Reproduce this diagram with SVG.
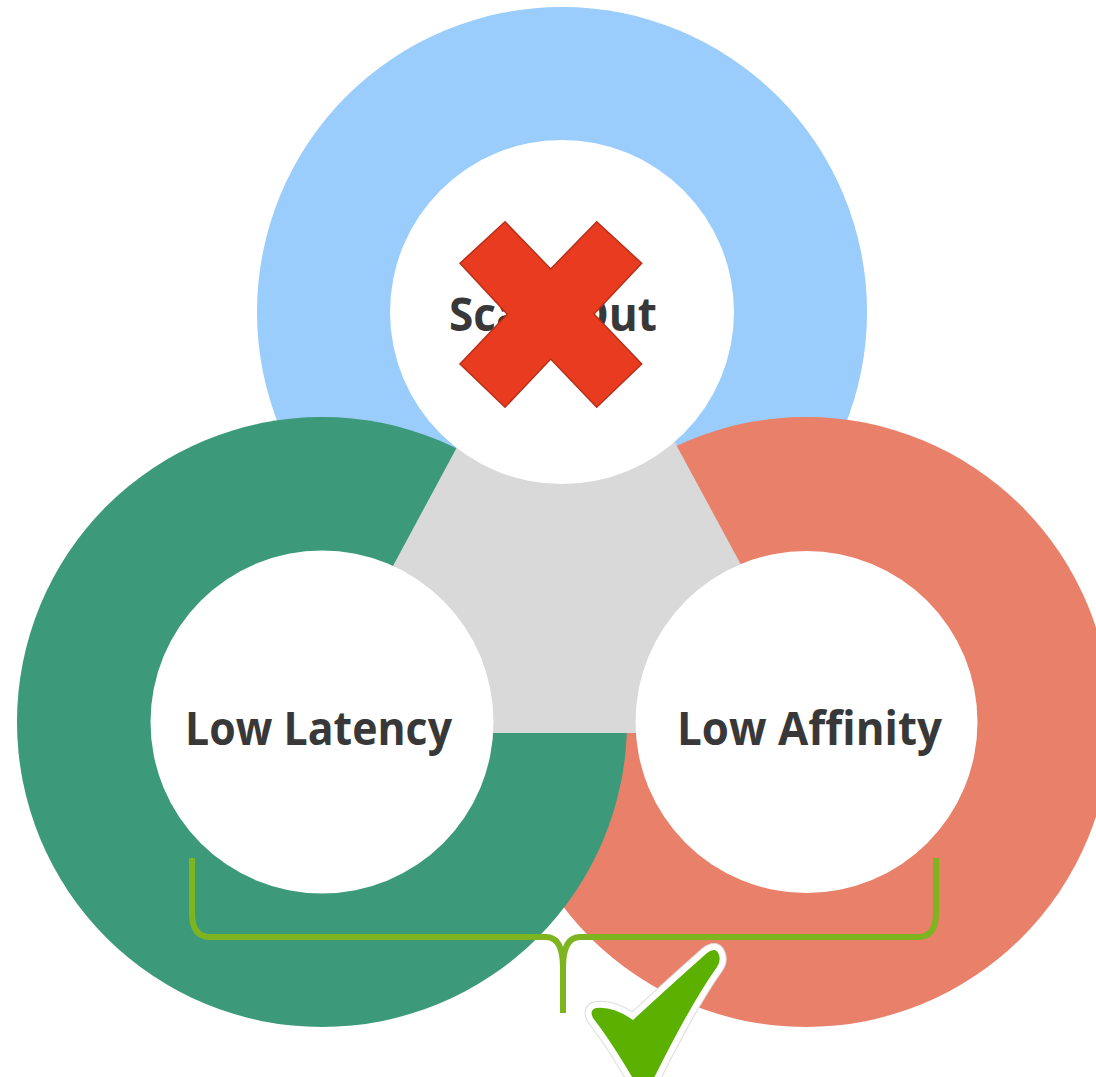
<svg xmlns="http://www.w3.org/2000/svg" width="1096" height="1077" viewBox="0 0 1096 1077">
<style>
.lbl{font-family:"Open Sans",Lato,"Liberation Sans",sans-serif;font-weight:700;font-size:46px;fill:#383838;text-anchor:middle;font-variant-ligatures:none}
.hole{fill:#ffffff}
.brk{fill:none;stroke:#7db41f;stroke-width:6;stroke-linecap:butt;stroke-linejoin:round}
</style>
<defs>
<path id="chk" d="M633,1020 Q672,984 707,953 Q716,946 719,955 Q721,961 717,967 Q690,1005 652,1082 L635,1082 Q611,1041 593,1018 Q589,1010 596,1008 Q613,1006 633,1020 Z"/>
</defs>
<rect x="0" y="0" width="1096" height="1077" fill="#ffffff"/>
<g id="ring-scale-out-outer"><circle cx="562" cy="312" r="305" fill="#9acdfc"/></g>
<g id="ring-low-affinity-outer"><circle cx="806" cy="722" r="305" fill="#e8806a"/></g>
<g id="ring-low-latency-outer"><circle cx="322" cy="722" r="305" fill="#3c9a7a"/></g>
<g id="center-overlap"><polygon points="567,243 303,733 832,733" fill="#d9d9d9"/></g>
<g id="node-scale-out">
<circle class="hole" cx="562" cy="312" r="172"/>
<text class="lbl" x="553" y="331" textLength="208" lengthAdjust="spacingAndGlyphs">Scale Out</text>
</g>
<g id="node-low-latency">
<circle class="hole" cx="322" cy="722" r="171.5"/>
<text class="lbl" x="318.5" y="745" textLength="267" lengthAdjust="spacingAndGlyphs">Low Latency</text>
</g>
<g id="node-low-affinity">
<circle class="hole" cx="806.5" cy="722" r="171"/>
<text class="lbl" x="809.5" y="745" textLength="265" lengthAdjust="spacingAndGlyphs">Low Affinity</text>
</g>
<g id="cross-mark">
<polygon points="505,221.7 550.7,269 596.7,221.7 641.7,263.3 594,314 641.7,364 596.7,407.3 550.7,359 505,407.3 460,364 507.3,314.3 460,263.3" fill="#e83b1f" stroke="#b8301a" stroke-width="1.5" stroke-linejoin="miter"/>
</g>
<g id="connectors">
<path class="brk" d="M192,858 L192,913 Q192,937 210,937 L546,937 Q563,937 563,968 L563,1013"/>
<path class="brk" d="M936,858 L936,913 Q936,937 918,937 L580,937 Q563,937 563,968"/>
</g>
<g id="check-mark">
<use href="#chk" fill="none" stroke="#dcdcdc" stroke-width="14" stroke-linejoin="round"/>
<use href="#chk" fill="none" stroke="#ffffff" stroke-width="12" stroke-linejoin="round"/>
<use href="#chk" fill="#5bb000"/>
</g>
</svg>
